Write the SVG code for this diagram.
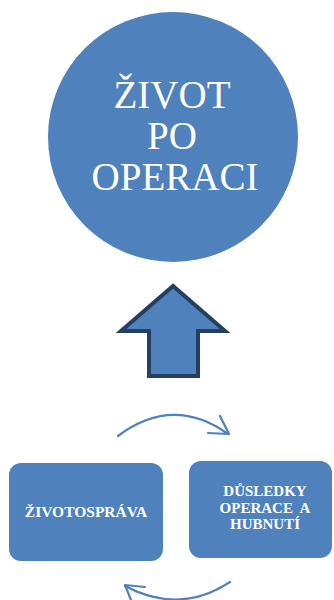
<svg xmlns="http://www.w3.org/2000/svg" width="334" height="600" viewBox="0 0 334 600">
<style>
.shape{fill:#4F81BD}
.t{font-family:"Liberation Serif","Times New Roman",serif;fill:#fff;text-anchor:middle}
.big{font-size:39px}
.b{font-size:15px;font-weight:bold}
.conn{fill:none;stroke:#4F81BD;stroke-width:2.2;stroke-linecap:round;stroke-linejoin:round}
</style>
<rect width="334" height="600" fill="#fff"/>
<g id="zivot">
<circle class="shape" cx="173" cy="137" r="125"/>
<text class="t big" x="172" y="108">ŽIVOT</text>
<text class="t big" x="172" y="149">PO</text>
<text class="t big" x="175" y="190">OPERACI</text>
</g>
<g id="arrow-up">
<path d="M173,286 L121,331 L149,331 L149,376 L198,376 L198,331 L225,331 Z" fill="#4F81BD" stroke="#243F60" stroke-width="4" stroke-linejoin="miter"/>
</g>
<g id="zivotosprava">
<rect class="shape" x="9" y="463" width="154" height="98" rx="12"/>
<text class="t b" x="86" y="517" style="font-size:15.5px">ŽIVOTOSPRÁVA</text>
</g>
<g id="dusledky">
<rect class="shape" x="189" y="461" width="143" height="97" rx="12"/>
<text class="t b" x="265" y="496">DŮSLEDKY</text>
<text class="t b" x="265" y="513" xml:space="preserve">OPERACE  A</text>
<text class="t b" x="265" y="529">HUBNUTÍ</text>
</g>
<g id="connectors">
<path class="conn" d="M118,436 Q173,395 228,434"/>
<path class="conn" d="M220,416 L229,434 L208,433"/>
<path class="conn" d="M230,582 Q180,615 125,586"/>
<path class="conn" d="M145,587 L125,585 L131,600"/>
</g>
</svg>
